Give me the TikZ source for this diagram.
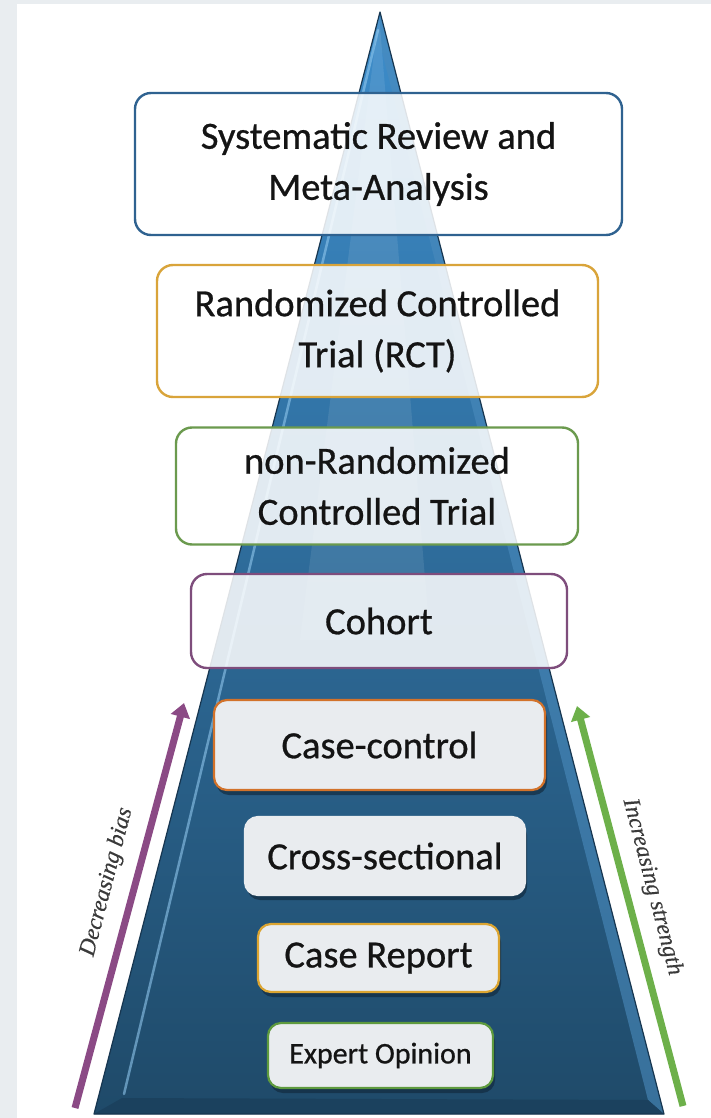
\documentclass[tikz,border=0pt]{standalone}
\usepackage{fontspec}
\setmainfont{Carlito}
\newfontfamily\boxfont{Carlito}[FakeBold=0.7]
\newfontfamily\labelfont{Liberation Serif}[FakeBold=0.4]
\usetikzlibrary{arrows.meta,shadows}
\definecolor{bggray}{HTML}{E9EDF0}
\definecolor{pyrtop}{HTML}{3D8DCB}
\definecolor{pyrmid}{HTML}{29628F}
\definecolor{pyrbot}{HTML}{1F4A69}
\definecolor{pyredge}{HTML}{173650}
\definecolor{bevelR}{HTML}{4A8BBD}
\definecolor{bevelL}{HTML}{8FC6EC}
\definecolor{baseband}{HTML}{1B415E}
\definecolor{cblue}{HTML}{2F6290}
\definecolor{cgold}{HTML}{D9A43A}
\definecolor{cgreen}{HTML}{6B9A4E}
\definecolor{cpurple}{HTML}{7E4D7C}
\definecolor{corange}{HTML}{D2722A}
\definecolor{cgold2}{HTML}{DCA531}
\definecolor{cgreen2}{HTML}{5E9A3E}
\definecolor{lowfill}{HTML}{E9ECEF}
\definecolor{txt}{HTML}{141414}
\definecolor{arrpurple}{HTML}{8B4A85}
\definecolor{arrgreen}{HTML}{6DB04A}
\definecolor{lbl}{HTML}{3A3A3A}
\definecolor{shadowc}{HTML}{122B40}
\tikzset{
  upbox/.style={draw=#1, line width=2.4pt, rounded corners=16pt, fill=white, fill opacity=0.86, text opacity=1,
    text=txt, align=center, inner sep=0pt, font=\boxfont\fontsize{38.5}{51}\selectfont},
  lowbox/.style={draw=#1, line width=2.2pt, rounded corners=13pt, fill=lowfill,
    text=txt, align=center, inner sep=0pt, font=\boxfont\fontsize{38.5}{51}\selectfont,
    drop shadow={shadow xshift=2pt, shadow yshift=-5pt, fill=shadowc, opacity=0.7}},
  trendarrow/.style={draw=#1, line width=7pt, -{Triangle[width=19pt,length=14pt]}},
  trendlabel/.style={text=lbl, font=\labelfont\itshape\fontsize{23.5}{24}\selectfont, inner sep=0pt}
}
\begin{document}
\begin{tikzpicture}[x=1pt,y=-1pt]
\useasboundingbox (0,0) rectangle (711,1118);
\fill[bggray] (0,0) rectangle (711,1118);
\fill[white] (17,4) rectangle (711,1118);

% pyramid
\shade[top color=pyrtop, middle color=pyrmid, bottom color=pyrbot]
  (380,12) -- (664,1114) -- (94,1114) -- cycle;
\fill[bevelR, opacity=0.6] (380,12) -- (664,1114) -- (648,1100) -- (379,40) -- cycle;
\fill[baseband] (94,1114) -- (664,1114) -- (648,1100) -- (122,1098) -- cycle;
\draw[bevelL, line width=2.5pt, opacity=0.6, line cap=round] (124,1094) -- (378,30);
\fill[white, opacity=0.09] (379,14) -- (430,640) -- (300,640) -- cycle;
\draw[pyredge, line width=1.2pt, line join=round] (380,12) -- (664,1114) -- (94,1114) -- cycle;

% boxes
\node[upbox=cblue, minimum width=487pt, minimum height=142pt] (sr) at (378.5,164) {Systematic Review and\\Meta-Analysis};
\node[upbox=cgold, minimum width=441pt, minimum height=132pt] (rct) at (377.5,331) {Randomized Controlled\\Trial (RCT)};
\node[upbox=cgreen, minimum width=402pt, minimum height=117pt] (nrct) at (377,486) {non-Randomized\\Controlled Trial};
\node[upbox=cpurple, minimum width=376pt, minimum height=94pt] (coh) at (379,621) {Cohort};
\node[lowbox=corange, minimum width=331pt, minimum height=90pt] (cc) at (379.5,745) {Case-control};
\node[lowbox=lowfill, minimum width=280pt, minimum height=78pt] (cs) at (385,856) {Cross-sectional};
\node[lowbox=cgold2, minimum width=241pt, minimum height=68pt] (cr) at (378.5,958) {Case Report};
\node[lowbox=cgreen2, minimum width=225pt, minimum height=65pt, font=\boxfont\fontsize{30}{36}\selectfont] (eo) at (380.5,1055.5) {Expert Opinion};

% arrows
\coordinate (pTail) at (75,1108);
\coordinate (pHead) at (184,703);
\coordinate (gTail) at (683,1106);
\coordinate (gHead) at (577,706);
\draw[trendarrow=arrpurple] (pTail) -- (pHead);
\draw[trendarrow=arrgreen] (gTail) -- (gHead);
\node[trendlabel, rotate=75.4] (lbias) at (107,882) {Decreasing bias};
\node[trendlabel, rotate=-75.3] (lstrength) at (652,887) {Increasing strength};
\end{tikzpicture}
\end{document}
